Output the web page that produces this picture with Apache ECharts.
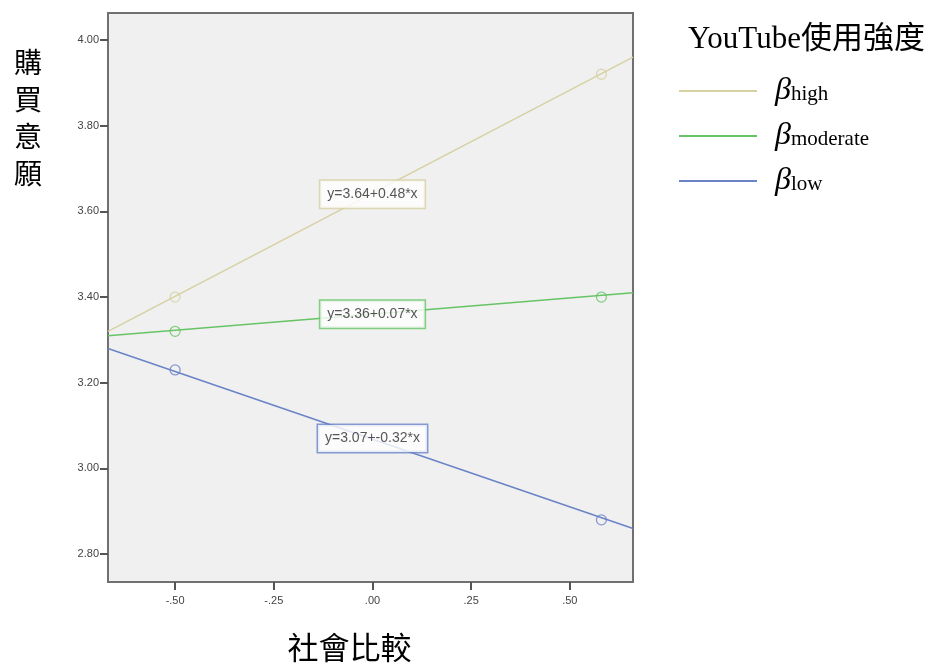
<!DOCTYPE html>
<html>
<head>
<meta charset="utf-8">
<script src="https://cdn.jsdelivr.net/npm/echarts@6/dist/echarts.min.js"></script>
<style>
html,body{margin:0;padding:0;background:#fff;}
#c{width:947px;height:664px;}
</style>
</head>
<body>
<div id="c"></div>
<script>
// ---- data ----
const groupNames = ['high', 'moderate', 'low'];
const groupColors = ['#d6d1a3', '#66c466', '#6b83c7'];
const pointX = [-0.50, 0.58];
const highPoints = [3.40, 3.92];
const moderatePoints = [3.32, 3.40];
const lowPoints = [3.23, 2.88];
const lineX = [-0.67, 0.66];
const highLine = [3.32, 3.96];
const moderateLine = [3.31, 3.41];
const lowLine = [3.28, 2.86];
const labelX = [0, 0, 0];
const labelY = [3.64, 3.36, 3.07];
const labelTexts = ['y=3.64+0.48*x', 'y=3.36+0.07*x', 'y=3.07+-0.32*x'];
const xTicks = [-0.50, -0.25, 0.00, 0.25, 0.50];
const xTickLabels = ['-.50', '-.25', '.00', '.25', '.50'];
const yTicks = [2.80, 3.00, 3.20, 3.40, 3.60, 3.80, 4.00];
const yTickLabels = ['2.80', '3.00', '3.20', '3.40', '3.60', '3.80', '4.00'];

const pointSets = [highPoints, moderatePoints, lowPoints];
const lineSets = [highLine, moderateLine, lowLine];

const chart = echarts.init(document.getElementById('c'));
const series = [];
groupNames.forEach((g, i) => {
  series.push({
    name: g, type: 'line', symbol: 'none', silent: true,
    data: lineX.map((x, k) => [x, lineSets[i][k]]),
    lineStyle: { color: groupColors[i], width: 1.5 },
    itemStyle: { color: groupColors[i] },
    z: 3
  });
  series.push({
    name: g + '_pts', type: 'scatter', symbol: 'circle', symbolSize: 10,
    data: pointX.map((x, k) => [x, pointSets[i][k]]),
    itemStyle: { color: 'rgba(0,0,0,0)', borderColor: groupColors[i], borderWidth: 1.3 },
    z: 4
  });
  series.push({
    name: g + '_lbl', type: 'scatter', symbol: 'rect', symbolSize: 1,
    data: [[labelX[i], labelY[i]]],
    itemStyle: { color: 'rgba(0,0,0,0)' },
    label: {
      show: true, position: 'inside', formatter: labelTexts[i],
      fontFamily: 'Liberation Sans', fontSize: 14, color: '#2a2a2a',
      backgroundColor: '#fff', borderColor: groupColors[i], borderWidth: 1.5,
      padding: [7, 7, 6, 7]
    },
    z: 6
  });
});

chart.setOption({
  animation: false,
  title: {
    text: 'YouTube使用強度', left: 683, top: 19,
    textStyle: { fontFamily: 'Liberation Serif, "Noto Sans CJK TC"', fontSize: 31, fontWeight: 'normal', color: '#000' }
  },
  legend: {
    data: groupNames, orient: 'vertical', left: 674, top: 70,
    itemWidth: 78, itemHeight: 2, itemGap: 13, icon: 'rect',
    formatter: n => '{b|β}{s|' + n + '}',
    textStyle: {
      rich: {
        b: { fontFamily: 'Liberation Serif', fontStyle: 'italic', fontSize: 32, color: '#000', lineHeight: 36, padding: [0, 0, 0, 13] },
        s: { fontFamily: 'Liberation Serif', fontSize: 21, color: '#000', lineHeight: 36, padding: [6, 0, 0, 0] }
      }
    }
  },
  grid: {
    left: 108, top: 13, right: 314, bottom: 82,
    outerBoundsMode: 'none', containLabel: false,
    show: true, backgroundColor: '#f0f0f0', borderColor: '#707070', borderWidth: 2
  },
  xAxis: {
    type: 'value', min: -0.67, max: 0.66,
    name: '社會比較', nameLocation: 'middle', nameGap: 50,
    nameTextStyle: { fontFamily: '"Noto Sans CJK TC"', fontSize: 31, color: '#000', padding: [0, 42, 0, 0] },
    axisLine: { show: true, onZero: false, lineStyle: { color: '#707070', width: 2 } },
    axisTick: { show: true, customValues: xTicks, length: 8, lineStyle: { color: '#555', width: 2 } },
    axisLabel: {
      customValues: xTicks, margin: 13,
      formatter: v => xTickLabels[xTicks.findIndex(t => Math.abs(t - v) < 1e-6)],
      fontFamily: 'Liberation Sans', fontSize: 11, color: '#444'
    },
    splitLine: { show: false }
  },
  yAxis: {
    type: 'value', min: 2.735, max: 4.063,
    axisLine: { show: true, onZero: false, lineStyle: { color: '#707070', width: 2 } },
    axisTick: { show: true, customValues: yTicks, length: 8, lineStyle: { color: '#555', width: 2 } },
    axisLabel: {
      customValues: yTicks, margin: 9,
      formatter: v => yTickLabels[yTicks.findIndex(t => Math.abs(t - v) < 1e-6)],
      fontFamily: 'Liberation Sans', fontSize: 11, color: '#444'
    },
    splitLine: { show: false }
  },
  graphic: [{
    type: 'text', left: 14, top: 44,
    style: { text: '購\n買\n意\n願', fontFamily: '"Noto Sans CJK TC"', fontSize: 28, lineHeight: 37, fill: '#000' }
  }],
  series: series
});
</script>
</body>
</html>
